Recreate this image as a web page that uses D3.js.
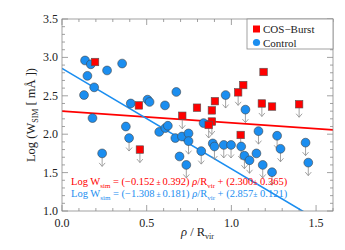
<!DOCTYPE html>
<html>
<head>
<meta charset="utf-8">
<script src="https://cdn.jsdelivr.net/npm/d3@7"></script>
<style>
  body { margin: 0; background: #fff; }
  svg { display: block; font-family: "Liberation Serif", "DejaVu Serif", serif; }
</style>
</head>
<body>
<div id="chart"></div>
<script>
// COS-Burst galaxies: [rho/Rvir, log W, upper limit?]
const burstX = [0.195, 0.454, 0.46, 0.71, 0.797, 0.903, 0.885, 0.885, 0.866, 1.04, 1.07, 1.055, 1.19, 1.18, 1.24, 1.40];
const burstY = [2.94, 2.375, 1.80, 2.24, 2.345, 2.43, 2.31, 2.165, 2.12, 2.545, 2.64, 1.99, 2.81, 2.40, 2.36, 2.39];
const burstLim = [0, 0, 1, 1, 0, 0, 0, 1, 1, 1, 0, 1, 0, 1, 0, 1];

// Control galaxies
const ctrlX = [0.136, 0.17, 0.266, 0.355, 0.15, 0.19, 0.13, 0.18, 0.406, 0.505, 0.517, 0.377, 0.396, 0.237,
  0.574, 0.61, 0.625, 0.675, 0.608, 0.966, 1.083, 0.836, 1.16, 0.669, 0.708, 0.747, 0.747, 0.694, 0.734,
  0.822, 0.89, 0.90, 0.955, 0.998, 1.058, 1.077, 1.107, 1.148, 1.185, 1.24, 1.27, 1.29, 1.438, 1.454];
const ctrlY = [2.96, 2.91, 2.83, 2.92, 2.76, 2.61, 2.51, 2.21, 2.40, 2.45, 2.42, 2.10, 1.95, 1.75,
  2.03, 2.08, 2.11, 2.55, 2.375, 2.51, 2.32, 2.145, 2.04, 1.95, 1.97, 2.01, 1.91, 1.71, 1.60,
  1.78, 1.88, 1.84, 1.86, 1.86, 1.84, 1.72, 1.66, 1.75, 1.60, 1.505, 1.98, 1.81, 1.89, 1.63];
const ctrlLim = [0, 0, 0, 0, 0, 0, 0, 0, 0, 0, 0, 0, 1, 1,
  0, 0, 0, 0, 0, 1, 1, 0, 1, 0, 0, 0, 1, 0, 1,
  1, 0, 1, 1, 1, 1, 1, 1, 0, 1, 1, 1, 1, 1, 1];

// linear fits: slope, intercept
const burstFit = [-0.152, 2.300];
const ctrlFit = [-1.308, 2.857];

const xTicks = [0.0, 0.5, 1.0, 1.5];
const yTicks = [1.0, 1.5, 2.0, 2.5, 3.0, 3.5];

const width = 345, height = 250;
const margin = { top: 19, right: 12, bottom: 39, left: 62 };
const red = "#ff0000", blue = "#1b8ef0", frameCol = "#8a8a8a";

const svg = d3.select("#chart").append("svg")
    .attr("width", width)
    .attr("height", height);

const x = d3.scaleLinear().domain([0, 1.6]).range([margin.left, width - margin.right]);
const y = d3.scaleLinear().domain([1.0, 3.5]).range([height - margin.bottom, margin.top]);

const x0 = x.range()[0], x1 = x.range()[1];
const y0 = y.range()[0], y1 = y.range()[1];

// ticks on all four sides, pointing inward
const minorX = d3.range(0, 1.601, 0.1);
const minorY = d3.range(1.0, 3.501, 0.1);
const isMajor = v => Math.abs(v * 2 - Math.round(v * 2)) < 1e-6;
const tickG = svg.append("g").attr("stroke", frameCol).attr("stroke-width", 0.8);
minorX.forEach(v => {
    const len = isMajor(v) ? 6 : 3;
    tickG.append("line").attr("x1", x(v)).attr("x2", x(v)).attr("y1", y0).attr("y2", y0 - len);
    tickG.append("line").attr("x1", x(v)).attr("x2", x(v)).attr("y1", y1).attr("y2", y1 + len);
});
minorY.forEach(v => {
    const len = isMajor(v) ? 6 : 3;
    tickG.append("line").attr("y1", y(v)).attr("y2", y(v)).attr("x1", x0).attr("x2", x0 + len);
    tickG.append("line").attr("y1", y(v)).attr("y2", y(v)).attr("x1", x1).attr("x2", x1 - len);
});

svg.append("g").selectAll("text")
    .data(xTicks)
    .enter().append("text")
    .attr("x", d => x(d))
    .attr("y", y0 + 16)
    .attr("text-anchor", "middle")
    .attr("font-size", 12)
    .attr("fill", "#222")
    .text(d => d3.format(".1f")(d));

svg.append("g").selectAll("text")
    .data(yTicks)
    .enter().append("text")
    .attr("x", x0 - 4)
    .attr("y", d => y(d) + 4)
    .attr("text-anchor", "end")
    .attr("font-size", 12)
    .attr("fill", "#222")
    .text(d => d3.format(".1f")(d));

// clip for plotted stuff
svg.append("clipPath").attr("id", "clip")
    .append("rect").attr("x", x0).attr("y", y1).attr("width", x1 - x0).attr("height", y0 - y1);

const plot = svg.append("g").attr("clip-path", "url(#clip)");

// fit lines
[[burstFit, red], [ctrlFit, blue]].forEach(([f, c]) => {
    plot.append("line")
        .attr("x1", x(0)).attr("y1", y(f[1]))
        .attr("x2", x(1.6)).attr("y2", y(f[1] + f[0] * 1.6))
        .attr("stroke", c)
        .attr("stroke-width", 1.6);
});

// upper-limit arrows
const arrows = plot.append("g").attr("stroke", "#8c8c8c").attr("stroke-width", 0.8).attr("fill", "none");
function drawArrow(px, py) {
    const cx = x(px), cy = y(py);
    arrows.append("line").attr("x1", cx).attr("x2", cx).attr("y1", cy).attr("y2", cy + 13);
    arrows.append("path").attr("d", `M${cx - 3},${cy + 9.5}L${cx},${cy + 13}L${cx + 3},${cy + 9.5}`);
}
ctrlX.forEach((v, i) => { if (ctrlLim[i]) drawArrow(v, ctrlY[i]); });
burstX.forEach((v, i) => { if (burstLim[i]) drawArrow(v, burstY[i]); });

// control circles
plot.append("g").selectAll("circle")
    .data(ctrlX.map((v, i) => [v, ctrlY[i]]))
    .enter().append("circle")
    .attr("cx", d => x(d[0]))
    .attr("cy", d => y(d[1]))
    .attr("r", 4.4)
    .attr("fill", blue)
    .attr("stroke", "#444")
    .attr("stroke-width", 0.6);

// COS-Burst squares
const s = 7.5;
plot.append("g").selectAll("rect")
    .data(burstX.map((v, i) => [v, burstY[i]]))
    .enter().append("rect")
    .attr("x", d => x(d[0]) - s / 2)
    .attr("y", d => y(d[1]) - s / 2)
    .attr("width", s)
    .attr("height", s)
    .attr("fill", red)
    .attr("stroke", "#555")
    .attr("stroke-width", 0.6);

// frame
svg.append("rect")
    .attr("x", x0).attr("y", y1)
    .attr("width", x1 - x0).attr("height", y0 - y1)
    .attr("fill", "none")
    .attr("stroke", frameCol)
    .attr("stroke-width", 0.8);

// legend
const leg = svg.append("g");
leg.append("rect")
    .attr("x", 247).attr("y", y1)
    .attr("width", x1 - 247).attr("height", 30)
    .attr("fill", "#fff")
    .attr("stroke", frameCol)
    .attr("stroke-width", 0.8);
leg.append("rect").attr("x", 253).attr("y", 25.5).attr("width", 7).attr("height", 7).attr("fill", red);
leg.append("circle").attr("cx", 256.5).attr("cy", 42.5).attr("r", 3.6).attr("fill", blue);
leg.append("text").attr("x", 263).attr("y", 33).attr("font-size", 11).attr("fill", "#222").text("COS\u2212Burst");
leg.append("text").attr("x", 263).attr("y", 46.5).attr("font-size", 11).attr("fill", "#222").text("Control");

// fit equations
function equation(yPos, color, slope, sErr, icpt, iErr) {
    const t = svg.append("text")
        .attr("x", 71).attr("y", yPos)
        .attr("font-size", 10.5)
        .attr("fill", color);
    t.append("tspan").text("Log W");
    t.append("tspan").attr("font-size", 7).attr("dy", 3).text("sim");
    t.append("tspan").attr("dy", -3).text(` = (${slope}`);
    t.append("tspan").attr("font-size", 7.5).text(" \u00b1 ");
    t.append("tspan").text(`${sErr}) `);
    t.append("tspan").attr("font-style", "italic").text("\u03c1");
    t.append("tspan").text("/R");
    t.append("tspan").attr("font-size", 7).attr("dy", 3).text("vir");
    t.append("tspan").attr("dy", -3).text(` + (${icpt}`);
    t.append("tspan").attr("font-size", 7.5).text("\u00b1");
    t.append("tspan").text(` ${iErr})`);
}
equation(185, red, "\u22120.152", "0.392", "2.300", "0.365");
equation(197, blue, "\u22121.308", "0.181", "2.857", "0.121");

// axis titles
const xl = svg.append("text")
    .attr("x", (x0 + x1) / 2)
    .attr("y", 236)
    .attr("text-anchor", "middle")
    .attr("font-size", 12.5)
    .attr("fill", "#222");
xl.append("tspan").attr("font-style", "italic").text("\u03c1");
xl.append("tspan").text("  / R");
xl.append("tspan").attr("font-size", 8).attr("dy", 3).text("vir");

const yl = svg.append("text")
    .attr("transform", `translate(35,${(y0 + y1) / 2}) rotate(-90)`)
    .attr("text-anchor", "middle")
    .attr("font-size", 12.5)
    .attr("fill", "#222");
yl.append("tspan").text("Log (W");
yl.append("tspan").attr("font-size", 8).attr("dy", 3).text("SIM");
yl.append("tspan").attr("dy", -3).text(" [ m\u00c5 ])");
</script>
</body>
</html>
